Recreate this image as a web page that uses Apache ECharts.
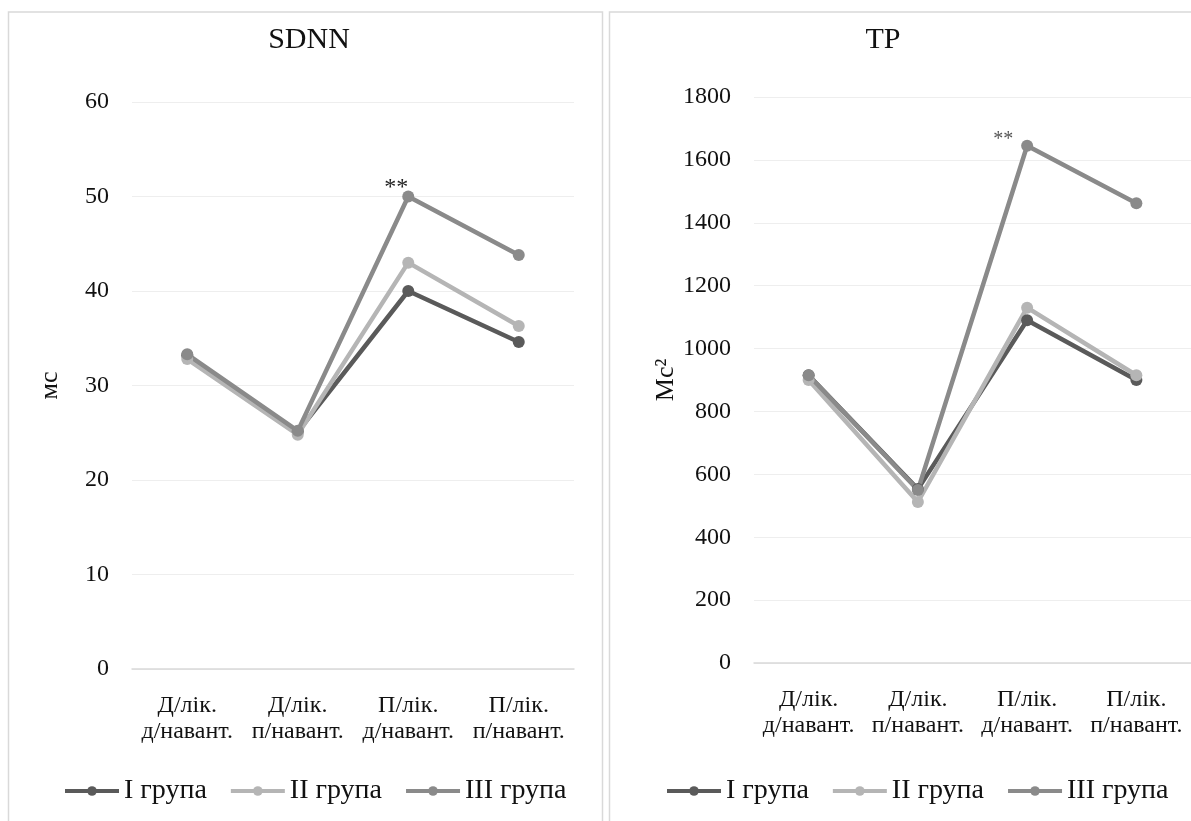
<!DOCTYPE html>
<html>
<head>
<meta charset="utf-8">
<script src="https://cdn.jsdelivr.net/npm/echarts@6/dist/echarts.min.js"></script>
<style>
html,body{margin:0;padding:0;background:#fff;overflow:hidden;}
#c{width:1191px;height:821px;}
</style>
</head>
<body>
<div id="c"></div>
<script>
// ---- data ----
const categories = ['Д/лік.\nд/навант.', 'Д/лік.\nп/навант.', 'П/лік.\nд/навант.', 'П/лік.\nп/навант.'];
const groupNames = ['І група', 'ІІ група', 'ІІІ група'];
const sdnnI   = [33.2, 25.1, 40.0, 34.6];
const sdnnII  = [32.8, 24.8, 43.0, 36.3];
const sdnnIII = [33.3, 25.2, 50.0, 43.8];
const tpI   = [915, 553, 1090, 900];
const tpII  = [900, 512, 1130, 915];
const tpIII = [915, 550, 1645, 1462];
const sdnnMarks = ['', '', '**', ''];
const tpMarks   = ['', '', '**', ''];
const sdnnTicks = {min: 0, max: 60, interval: 10};
const tpTicks   = {min: 0, max: 1800, interval: 200};

// ---- style ----
const FONT = "'Liberation Serif', 'Times New Roman', serif";
const colors = ['#5a5a5a', '#b5b5b5', '#8a8a8a'];

function series(name, data, color, idx, marks, markStyle) {
  return {
    name, type: 'line', xAxisIndex: idx, yAxisIndex: idx,
    symbol: 'circle', symbolSize: 12, smooth: false,
    lineStyle: {width: 4.5, color},
    itemStyle: {color},
    emphasis: {disabled: true},
    data: data.map((v, i) => (marks && marks[i]) ? {
      value: v,
      label: Object.assign({show: true, formatter: marks[i], position: 'top', fontFamily: FONT}, markStyle)
    } : v)
  };
}

function xAxis(idx) {
  return {
    type: 'category', gridIndex: idx, data: categories, boundaryGap: true,
    axisLine: {lineStyle: {color: '#d9d9d9', width: 1.5}},
    axisTick: {show: false},
    axisLabel: {fontFamily: FONT, fontSize: 24, color: '#111', lineHeight: 26, margin: 24, interval: 0}
  };
}
function yAxis(idx, ticks, name, gap) {
  return {
    type: 'value', gridIndex: idx, min: ticks.min, max: ticks.max, interval: ticks.interval,
    name, nameLocation: 'middle', nameGap: gap,
    nameTextStyle: {fontFamily: FONT, fontSize: 26, color: '#111'},
    axisLine: {show: false}, axisTick: {show: false},
    splitLine: {lineStyle: {color: '#eeeeee', width: 1}},
    axisLabel: {fontFamily: FONT, fontSize: 24, color: '#111', margin: 23, formatter: v => String(v)}
  };
}

const legendBase = {
  data: groupNames, orient: 'horizontal', itemWidth: 54, itemHeight: 12, itemGap: 22,
  lineStyle: {width: 4},
  textStyle: {fontFamily: FONT, fontSize: 28, color: '#111'}, selectedMode: false
};

const chart = echarts.init(document.getElementById('c'), null, {renderer: 'canvas'});
chart.setOption({
  animation: false,
  backgroundColor: '#fff',
  title: [
    {text: 'SDNN', left: 304, top: 20, textAlign: 'center', textStyle: {fontFamily: FONT, fontSize: 30, fontWeight: 'normal', color: '#111'}},
    {text: 'TP', left: 878, top: 20, textAlign: 'center', textStyle: {fontFamily: FONT, fontSize: 30, fontWeight: 'normal', color: '#111'}}
  ],
  legend: [
    Object.assign({left: 58, top: 772}, legendBase),
    Object.assign({left: 660, top: 772}, legendBase)
  ],
  grid: [
    {left: 132, right: 617, top: 102, bottom: 152},
    {left: 754, right: -7, top: 97, bottom: 158}
  ],
  xAxis: [xAxis(0), xAxis(1)],
  yAxis: [yAxis(0, sdnnTicks, 'мс', 69), yAxis(1, tpTicks, 'Мс²', 72)],
  graphic: [
    {type: 'rect', shape: {x: 8.5, y: 12, width: 594, height: 830}, style: {fill: 'none', stroke: '#d9d9d9', lineWidth: 1.5}, silent: true},
    {type: 'rect', shape: {x: 609.5, y: 12, width: 600, height: 830}, style: {fill: 'none', stroke: '#d9d9d9', lineWidth: 1.5}, silent: true}
  ],
  series: [
    series(groupNames[0], sdnnI, colors[0], 0),
    series(groupNames[1], sdnnII, colors[1], 0),
    series(groupNames[2], sdnnIII, colors[2], 0, sdnnMarks, {fontSize: 24, color: '#222', offset: [-12, 14]}),
    series(groupNames[0], tpI, colors[0], 1),
    series(groupNames[1], tpII, colors[1], 1),
    series(groupNames[2], tpIII, colors[2], 1, tpMarks, {fontSize: 20, color: '#555', offset: [-24, 15]})
  ]
});
</script>
</body>
</html>
